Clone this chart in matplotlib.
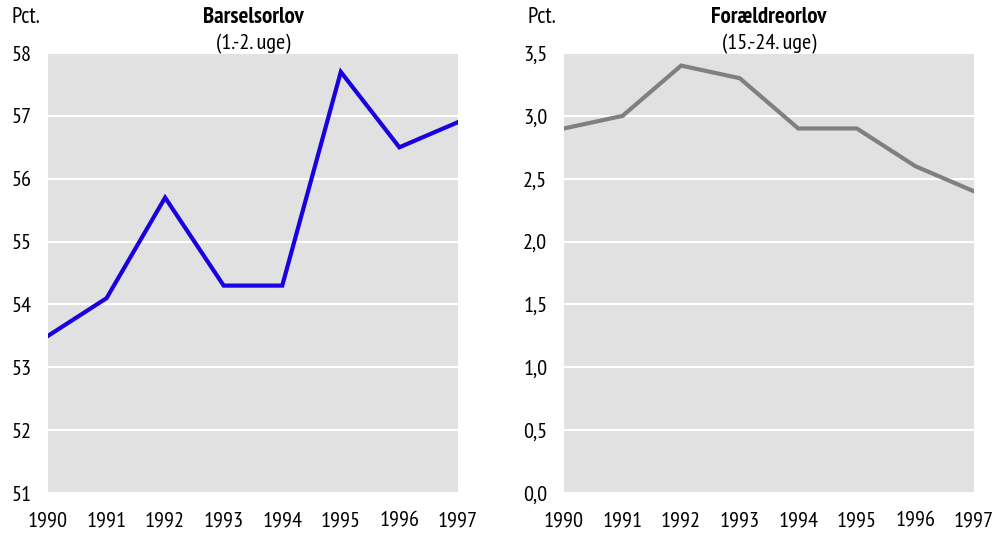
import matplotlib.pyplot as plt
from matplotlib.ticker import FuncFormatter

# data
years = [1990, 1991, 1992, 1993, 1994, 1995, 1996, 1997]
barsel = [53.5, 54.1, 55.7, 54.3, 54.3, 57.7, 56.5, 56.9]
foraeldre = [2.9, 3.0, 3.4, 3.3, 2.9, 2.9, 2.6, 2.4]

left_ticks = [51, 52, 53, 54, 55, 56, 57, 58]
right_ticks = [0.0, 0.5, 1.0, 1.5, 2.0, 2.5, 3.0, 3.5]

plt.rcParams['font.family'] = ['Arial Narrow', 'Liberation Sans Narrow', 'PT Sans Narrow',
                               'Roboto Condensed', 'Archivo Narrow', 'DejaVu Sans']
plt.rcParams['font.size'] = 16

fig = plt.figure(figsize=(10.08, 5.33), dpi=100)
ax1 = fig.add_axes([0.0476, 0.075, 0.4067, 0.8255])
ax2 = fig.add_axes([0.5595, 0.075, 0.4067, 0.8255])

panels = [
    (ax1, barsel, '#1a00e0', left_ticks, 'Barselsorlov', '(1.-2. uge)',
     lambda v, p: '%d' % v),
    (ax2, foraeldre, '#808080', right_ticks, 'Forældreorlov', '(15.-24. uge)',
     lambda v, p: ('%.1f' % v).replace('.', ',')),
]

for ax, vals, col, yt, title, sub, fmt in panels:
    ax.set_facecolor('#e1e1e1')
    ax.plot(years, vals, color=col, lw=3, solid_joinstyle='miter', zorder=3)
    ax.set_xlim(years[0], years[-1])
    ax.set_ylim(yt[0], yt[-1])
    ax.set_yticks(yt)
    ax.set_xticks(years)
    ax.yaxis.set_major_formatter(FuncFormatter(fmt))
    ax.grid(axis='y', color='white', lw=1.5)
    ax.set_axisbelow(True)
    for s in ax.spines.values():
        s.set_visible(False)
    ax.tick_params(length=0)
    ax.tick_params(axis='x', pad=13)
    ax.tick_params(axis='y', pad=12)
    ax.text(0.5, 1.056, title, transform=ax.transAxes, ha='center', va='bottom',
            fontweight='bold', fontsize=16.5)
    ax.text(0.5, 0.998, sub, transform=ax.transAxes, ha='center', va='bottom',
            fontsize=16)
    ax.text(-0.088, 1.056, 'Pct.', transform=ax.transAxes, ha='left', va='bottom',
            fontsize=16.5)

fig.savefig('out.png', dpi=100)
